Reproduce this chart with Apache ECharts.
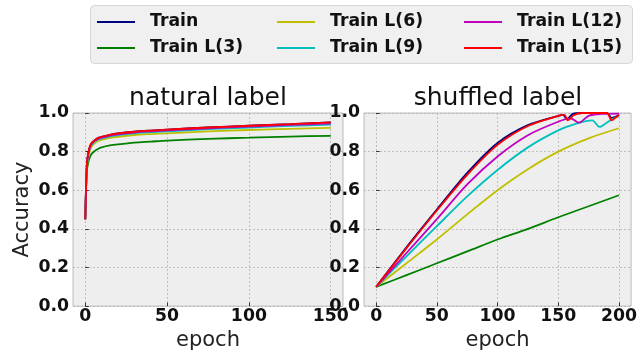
<!DOCTYPE html>
<html><head><meta charset="utf-8">
<script src="https://cdn.jsdelivr.net/npm/echarts@6/dist/echarts.min.js"></script>
<style>html,body{margin:0;padding:0;background:#fff}#c{width:640px;height:356px}</style>
</head><body><div id="c"></div>
<script>
// ---- data ----
const seriesNames = ['Train','Train L(3)','Train L(6)','Train L(9)','Train L(12)','Train L(15)'];
const colors = ['#000080','#008000','#bfbf00','#00bfbf','#bf00bf','#ff0000'];

// natural label (epochs 0..150)
const natEpochs = [0,1,2,3,4,6,8,10,15,20,30,40,50,75,100,125,150];
const natTrain = [0.45,0.74,0.80,0.83,0.845,0.861,0.871,0.877,0.887,0.894,0.903,0.909,0.914,0.925,0.934,0.942,0.951];
const natL3    = [0.45,0.70,0.75,0.775,0.79,0.805,0.815,0.822,0.832,0.838,0.847,0.852,0.857,0.866,0.872,0.878,0.882];
const natL6    = [0.45,0.72,0.78,0.81,0.828,0.845,0.855,0.861,0.871,0.877,0.886,0.891,0.895,0.905,0.912,0.918,0.923];
const natL9    = [0.45,0.73,0.79,0.82,0.836,0.853,0.863,0.869,0.879,0.886,0.895,0.901,0.905,0.916,0.925,0.933,0.940];
const natL12   = [0.45,0.735,0.795,0.825,0.841,0.857,0.867,0.873,0.883,0.890,0.899,0.905,0.910,0.921,0.930,0.938,0.946];
const natL15   = [0.45,0.74,0.80,0.83,0.845,0.861,0.871,0.877,0.887,0.894,0.903,0.909,0.914,0.925,0.934,0.942,0.951];

// shuffled label (epochs 0..200)
const shTrainX = [0,25,50,75,100,125,150,154,157,162,170,190,194,200];
const shTrainY = [0.10,0.305,0.50,0.69,0.845,0.937,0.985,0.99,0.968,0.995,1.0,1.0,0.975,0.99];
const shL3X = [0,25,50,75,100,125,150,175,200];
const shL3Y = [0.10,0.16,0.222,0.283,0.345,0.40,0.46,0.517,0.574];
const shL6X = [0,25,50,75,100,125,150,175,200];
const shL6Y = [0.10,0.222,0.345,0.475,0.600,0.709,0.80,0.869,0.921];
const shL9X = [0,25,50,75,100,125,150,165,178,184,190,195,200];
const shL9Y = [0.10,0.258,0.414,0.568,0.705,0.822,0.91,0.945,0.962,0.928,0.95,0.97,0.985];
const shL12X = [0,25,50,75,100,125,150,160,167,175,185,200];
const shL12Y = [0.10,0.275,0.45,0.63,0.775,0.885,0.955,0.972,0.95,0.985,0.995,0.997];
const shL15X = [0,25,50,75,100,125,150,155,158,163,170,190,194,197,200];
const shL15Y = [0.10,0.30,0.495,0.68,0.835,0.933,0.985,0.99,0.962,0.99,1.0,1.0,0.962,0.975,0.99];

const natTicks = [0,50,100,150];
const shTicks = [0,50,100,150,200];

const natData = [natTrain,natL3,natL6,natL9,natL12,natL15];
const shX = [shTrainX,shL3X,shL6X,shL9X,shL12X,shL15X];
const shY = [shTrainY,shL3Y,shL6Y,shL9Y,shL12Y,shL15Y];

const FONT = 'DejaVu Sans';
const FS = 17.3;
const chart = echarts.init(document.getElementById('c'), null, {renderer:'canvas'});

function xAxisCfg(idx, min, max, ticks) {
  return {
    type:'value', gridIndex: idx, min:min, max:max,
    name:'epoch', nameLocation:'middle', nameGap:23,
    nameTextStyle:{fontFamily:FONT, fontSize:21, color:'#222'},
    axisLine:{show:false},
    axisTick:{show:true, inside:true, length:3.5, customValues:ticks, lineStyle:{color:'#333', width:1}},
    axisLabel:{customValues:ticks, fontFamily:FONT, fontWeight:'bold', fontSize:FS, color:'#111', margin:2},
    splitLine:{show:true, lineStyle:{color:'#b2b2b2', type:[2,2], width:0.8}}
  };
}
function yAxisCfg(idx, withName) {
  return {
    type:'value', gridIndex: idx, min:0, max:1, interval:0.2,
    name: withName ? 'Accuracy' : '', nameLocation:'middle', nameGap:40,
    nameTextStyle:{fontFamily:FONT, fontSize:21, color:'#222'},
    axisLine:{show:false},
    axisTick:{show:true, inside:true, length:3.5, lineStyle:{color:'#333', width:1}},
    axisLabel:{fontFamily:FONT, fontWeight:'bold', fontSize:FS, color:'#111', margin:4,
      formatter: v => v.toFixed(1)},
    splitLine:{show:true, lineStyle:{color:'#b2b2b2', type:[2,2], width:0.8}}
  };
}

const series = [];
for (let i=0;i<6;i++) {
  series.push({
    name: seriesNames[i], type:'line', xAxisIndex:0, yAxisIndex:0,
    data: natEpochs.map((e,k)=>[e, natData[i][k]]),
    showSymbol:false, symbol:'none', smooth:0.3,
    lineStyle:{color:colors[i], width:1.8}, itemStyle:{color:colors[i]},
    z: 2+i, animation:false
  });
}
for (let i=0;i<6;i++) {
  series.push({
    name: seriesNames[i], type:'line', xAxisIndex:1, yAxisIndex:1,
    data: shX[i].map((e,k)=>[e, shY[i][k]]),
    showSymbol:false, symbol:'none', smooth:0.3,
    lineStyle:{color:colors[i], width:1.8}, itemStyle:{color:colors[i]},
    z: 2+i, animation:false
  });
}

function legendCol(left, names) {
  return {
    orient:'vertical', left:left, top:13.5, padding:0, itemWidth:38, itemHeight:2, itemGap:9,
    icon:'rect', selectedMode:false, data:names,
    textStyle:{fontFamily:FONT, fontWeight:'bold', fontSize:FS, lineHeight:17, color:'#111', padding:[0,0,0,10]}
  };
}

chart.setOption({
  animation:false,
  backgroundColor:'#ffffff',
  title:[
    {text:'natural label', left:208, top:86, padding:0, textAlign:'center',
     textStyle:{fontFamily:FONT, fontWeight:'normal', fontSize:25, color:'#111'}},
    {text:'shuffled label', left:498, top:86, padding:0, textAlign:'center',
     textStyle:{fontFamily:FONT, fontWeight:'normal', fontSize:25, color:'#111'}}
  ],
  graphic:[{type:'rect', shape:{x:90.5, y:5.5, width:542, height:58, r:4},
    style:{fill:'#f0f0f0', stroke:'#d6d6d6', lineWidth:1}, z:-1, silent:true}],
  legend:[
    legendCol(97, ['Train','Train L(3)']),
    legendCol(277, ['Train L(6)','Train L(9)']),
    legendCol(464, ['Train L(12)','Train L(15)'])
  ],
  grid:[
    {left:73, top:113, width:270, height:193.5, show:true, backgroundColor:'#eeeeee', borderColor:'#bcbcbc', borderWidth:1},
    {left:364, top:113, width:268, height:193.5, show:true, backgroundColor:'#eeeeee', borderColor:'#bcbcbc', borderWidth:1}
  ],
  xAxis:[ xAxisCfg(0,-7.5,157.5,natTicks), xAxisCfg(1,-10,210,shTicks) ],
  yAxis:[ yAxisCfg(0,true), yAxisCfg(1,false) ],
  series: series
});
</script></body></html>
